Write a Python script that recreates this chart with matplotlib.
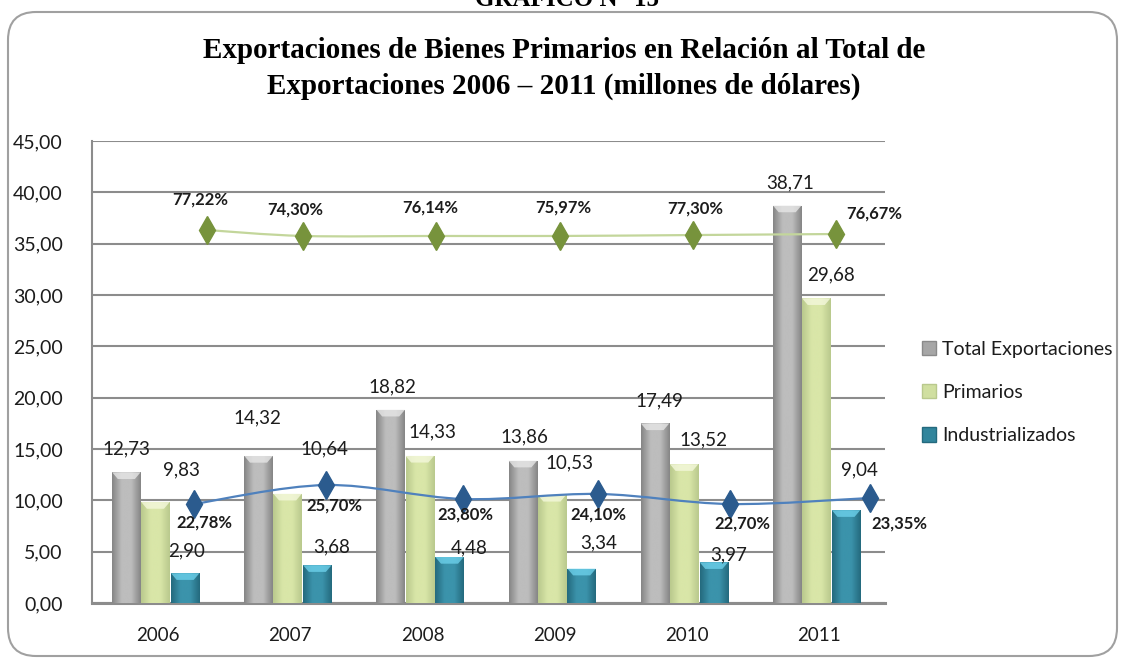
import numpy as np
import matplotlib.pyplot as plt
from matplotlib.colors import LinearSegmentedColormap
from matplotlib.patches import Patch, FancyBboxPatch, PathPatch, Polygon
from matplotlib.path import Path

# data
years = ['2006', '2007', '2008', '2009', '2010', '2011']
total = [12.73, 14.32, 18.82, 13.86, 17.49, 38.71]
primarios = [9.83, 10.64, 14.33, 10.53, 13.52, 29.68]
industrial = [2.90, 3.68, 4.48, 3.34, 3.97, 9.04]
pct_prim = ['77,22%', '74,30%', '76,14%', '75,97%', '77,30%', '76,67%']
pct_ind = ['22,78%', '25,70%', '23,80%', '24,10%', '22,70%', '23,35%']
# heights of the two percentage lines as drawn on the value axis
line_prim = [36.33, 35.75, 35.75, 35.75, 35.84, 35.94]
line_ind = [9.64, 11.49, 10.13, 10.62, 9.64, 10.23]

# layout (hand placed in the original)
prim_dx = [0.37, 0.10, 0.10, 0.04, 0.05, 0.13]
ind_dx = [0.27, 0.27, 0.31, 0.33, 0.33, 0.39]
lab_tot = [(0, 23), (-1, 38), (2, 23), (2, 24), (4, 23), (3, 23)]
lab_pri = [(26, 32), (37, 45), (13, 24), (17, 32), (19, 24), (15, 23)]
lab_ind = [(1, 22), (14, 18), (20, 9), (17, 26), (15, 7), (13, 40)]
lab_pp = [(-7, 30), (-8, 26), (-5, 28), (3, 28), (2, 27), (38, 21)]
lab_pi = [(11, -18), (8, -20), (2, -16), (0, -21), (12, -19), (29, -26)]

plt.rcParams['font.family'] = ['Lato', 'DejaVu Sans']
txt_col = '#1c1c1c'

fig = plt.figure(figsize=(11.23, 6.59), dpi=100)
ax = fig.add_axes([92/1123, 56/659, 793/1123, 462/659])

x = np.arange(len(years))
w = 0.215
series = [
    (total, -0.24, '#858585', '#bdbdbd', '#e6e6e6', lab_tot),
    (primarios, -0.02, '#b9c98d', '#d9e6a8', '#f4f8dc', lab_pri),
    (industrial, 0.205, '#246a7e', '#3b93ab', '#6cd0ea', lab_ind),
]

for vals, off, c_edge, c_mid, c_top, labs in series:
    bars = ax.bar(x + off, vals, w, color=c_mid, zorder=3)
    cmap = LinearSegmentedColormap.from_list('g', [c_edge, c_mid, c_mid, c_edge])
    for b, v, (dx, dy) in zip(bars, vals, labs):
        x0, x1 = b.get_x(), b.get_x() + b.get_width()
        im = ax.imshow(np.linspace(0, 1, 64).reshape(1, -1), extent=[x0, x1, 0, v],
                       aspect='auto', cmap=cmap, zorder=3.1, interpolation='bicubic')
        im.set_clip_path(b)
        d = 0.65
        bev = Polygon([(x0, v), (x1, v), (x1 - w*0.2, v - d), (x0 + w*0.2, v - d)],
                      closed=True, facecolor=c_top, edgecolor='none', alpha=0.8, zorder=3.2)
        ax.add_patch(bev)
        ax.annotate(f'{v:.2f}'.replace('.', ','), (x0 + w/2, v), xytext=(dx, dy),
                    textcoords='offset pixels', ha='center', va='center',
                    fontsize=13.5, color=txt_col, zorder=6)


def smooth_path(px, py):
    pts = np.column_stack([px, py])
    verts = [pts[0]]
    codes = [Path.MOVETO]
    n = len(pts)
    for i in range(n - 1):
        p0 = pts[max(i - 1, 0)]
        p1 = pts[i]
        p2 = pts[i + 1]
        p3 = pts[min(i + 2, n - 1)]
        verts += [p1 + (p2 - p0) / 6, p2 - (p3 - p1) / 6, p2]
        codes += [Path.CURVE4] * 3
    return Path(verts, codes)


for yv, dxs, lc, mc, labs, txts in [
        (line_prim, prim_dx, '#c3d69b', '#77933c', lab_pp, pct_prim),
        (line_ind, ind_dx, '#4f81bd', '#2b5b8e', lab_pi, pct_ind)]:
    xs = x + np.array(dxs)
    ax.add_patch(PathPatch(smooth_path(xs, yv), facecolor='none', edgecolor=lc,
                           lw=1.6, zorder=4))
    ax.plot(xs, yv, ls='none', marker='d', ms=14, color=mc, mec=mc, zorder=5)
    for xi, yi, t, (dx, dy) in zip(xs, yv, txts, labs):
        ax.annotate(t, (xi, yi), xytext=(dx, dy), textcoords='offset pixels',
                    ha='center', va='center', fontsize=12, fontweight='bold',
                    color=txt_col, zorder=6)

ax.set_xlim(-0.5, 5.5)
ax.set_ylim(0, 45)
ax.set_yticks(np.arange(0, 46, 5))
ax.set_yticklabels([f'{v:.2f}'.replace('.', ',') for v in np.arange(0, 46, 5)])
ax.set_xticks(x)
ax.set_xticklabels(years)
ax.tick_params(axis='y', length=0, pad=21, labelsize=14, labelcolor=txt_col)
ax.tick_params(axis='x', length=0, pad=17, labelsize=13.5, labelcolor=txt_col)
ax.yaxis.grid(True, color='#8c8c8c', lw=1.5, zorder=0)
ax.set_axisbelow(True)
for s in ['top', 'right']:
    ax.spines[s].set_visible(False)
ax.spines['left'].set_color('#8c8c8c')
ax.spines['left'].set_linewidth(1.5)
ax.spines['bottom'].set_color('#8c8c8c')
ax.spines['bottom'].set_linewidth(2.2)

handles = [Patch(facecolor='#a6a6a6', edgecolor='#8a8a8a'),
           Patch(facecolor='#d0dfa0', edgecolor='#b9c98d'),
           Patch(facecolor='#31859c', edgecolor='#246a7e')]
fig.legend(handles, ['Total Exportaciones', 'Primarios', 'Industrializados'],
           loc='upper left', bbox_to_anchor=(914/1123, 1 - 333/659), frameon=False,
           fontsize=14, handlelength=0.75, handleheight=0.75, handletextpad=0.3,
           labelspacing=1.35, labelcolor=txt_col, borderaxespad=0)

fig.text(0.502, 1 - 50/659, 'Exportaciones de Bienes Primarios en Relación al Total de',
         ha='center', va='center', family='Liberation Serif', fontweight='bold', fontsize=21)
fig.text(0.502, 1 - 86/659, 'Exportaciones 2006 – 2011 (millones de dólares)',
         ha='center', va='center', family='Liberation Serif', fontweight='bold', fontsize=21)
fig.text(0.505, 1 - 6/659, 'GRÁFICO N° 15', ha='center', va='baseline',
         family='Liberation Serif', fontweight='bold', fontsize=18)

frame = FancyBboxPatch((0.08, 0.03), 11.09, 6.44, boxstyle='round,pad=0,rounding_size=0.28',
                       transform=fig.dpi_scale_trans, facecolor='none',
                       edgecolor='#a0a0a0', lw=1.5)
fig.patches.append(frame)

fig.savefig('out.png', dpi=100)
